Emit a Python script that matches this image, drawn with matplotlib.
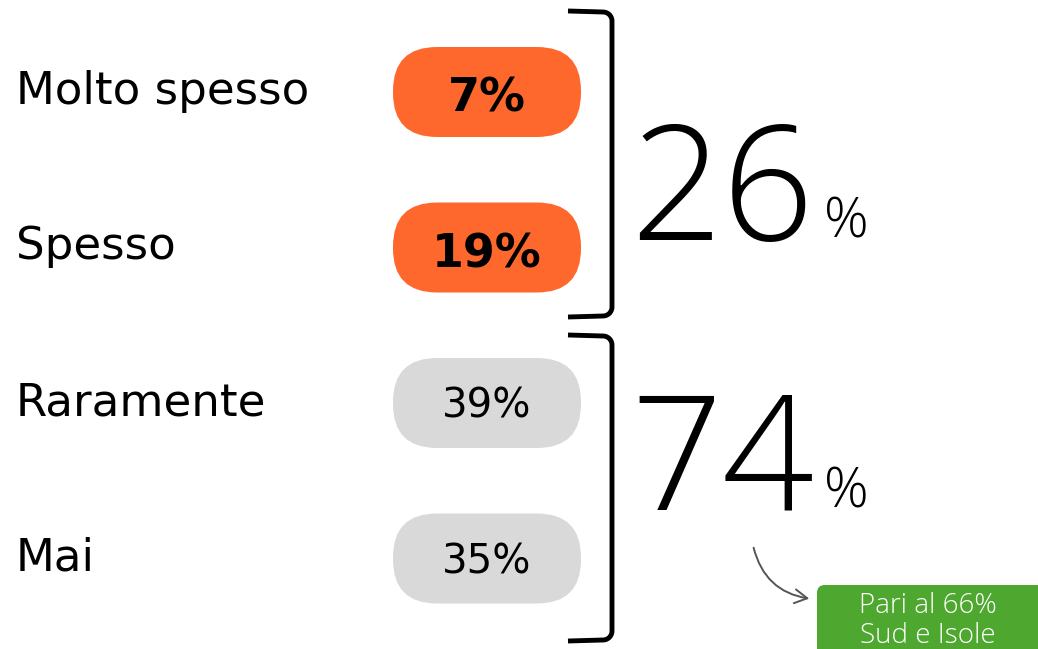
import numpy as np
import matplotlib
matplotlib.use("Agg")
import matplotlib.pyplot as plt
from matplotlib.patches import FancyBboxPatch, FancyArrowPatch

categories = ["Molto spesso", "Spesso", "Raramente", "Mai"]
values = [7, 19, 39, 35]
highlight = [True, True, False, False]
group_totals = [26, 74]
note_lines = ["Pari al 66%", "Sud e Isole"]

ORANGE = "#FF682C"
GREY = "#D9D9D9"
GREEN = "#4EA72E"
FONT = "DejaVu Sans"
BIG_FONT = ["Open Sans", "Lato", "DejaVu Sans"]

fig = plt.figure(figsize=(10.38, 6.49), dpi=100)
ax = fig.add_axes([0, 0, 1, 1])
ax.set_xlim(0, 1038)
ax.set_ylim(649, 0)
ax.axis("off")

row_y0, row_step = 92, 155.5
for i, (cat, val, hi) in enumerate(zip(categories, values, highlight)):
    yc = row_y0 + i * row_step
    ax.text(16, yc + 12, cat, fontsize=32.5, family=FONT, va="baseline", ha="left")
    pill = FancyBboxPatch((393, yc - 45), 188, 90,
                          boxstyle="round,pad=0,rounding_size=44",
                          fc=ORANGE if hi else GREY, ec="none")
    ax.add_patch(pill)
    if hi:
        ax.text(487, yc + 20, f"{val}%", fontsize=33, family=FONT,
                fontweight="bold", va="baseline", ha="center")
    else:
        ax.text(487, yc + 15, f"{val}%", fontsize=29, family=FONT,
                va="baseline", ha="center")


def bracket(top, bot, x=612, x0=568, r=9):
    t = np.linspace(0, np.pi / 2, 12)
    cx = x - r
    top_x = cx + r * np.sin(t)
    top_y = top + r - r * np.cos(t)
    bot_x = cx + r * np.cos(t)
    bot_y = bot - r + r * np.sin(t)
    xs = np.concatenate([[x0], top_x, bot_x, [x0]])
    ys = np.concatenate([[top - 1], top_y, bot_y, [bot + 1]])
    ax.plot(xs, ys, color="black", lw=3.5, solid_capstyle="butt", solid_joinstyle="round")


bracket(12, 316)
bracket(336, 640)

# group totals
for total, yb in zip(group_totals, [240, 510]):
    ax.text(722, yb, str(total), fontsize=116, family=BIG_FONT, fontweight="light",
            va="baseline", ha="center")
    ax.text(846, yb - 3, "%", fontsize=40, family=BIG_FONT, fontweight="light",
            va="baseline", ha="center")

# arrow to note
arrow = FancyArrowPatch((753, 545), (812, 599), connectionstyle="arc3,rad=0.35",
                        arrowstyle="->,head_length=9,head_width=5", color="#555555", lw=1.4)
ax.add_patch(arrow)

note = FancyBboxPatch((817, 585), 240, 80, boxstyle="round,pad=0,rounding_size=8",
                      fc=GREEN, ec="none")
ax.add_patch(note)
for j, line in enumerate(note_lines):
    ax.text(928, 613 + j * 30, line, fontsize=20, family=BIG_FONT, color="white",
            fontweight="light", va="baseline", ha="center")

fig.savefig("out.png", dpi=100)
